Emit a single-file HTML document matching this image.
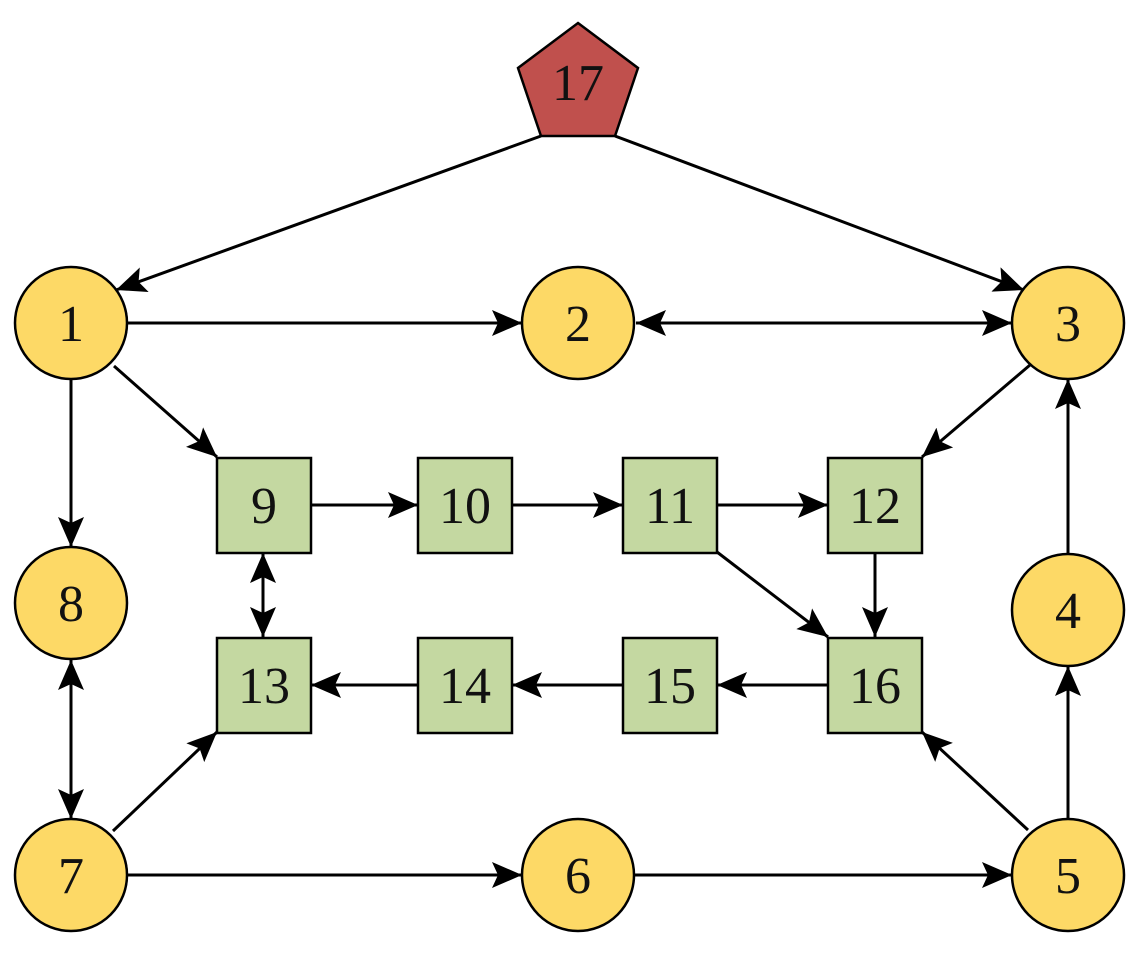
<!DOCTYPE html>
<html><head><meta charset="utf-8"><style>html,body{margin:0;padding:0;background:#fff}svg{display:block}</style></head>
<body>
<svg width="1139" height="964" viewBox="0 0 1139 964" xmlns="http://www.w3.org/2000/svg">
<defs>
<marker id="a" markerUnits="userSpaceOnUse" markerWidth="32" markerHeight="26" refX="30" refY="13" orient="auto">
<path d="M0,0 L30,13 L0,26 L6,13 Z" fill="#000"/></marker>
<marker id="s" markerUnits="userSpaceOnUse" markerWidth="32" markerHeight="26" refX="0" refY="13" orient="auto">
<path d="M30,0 L0,13 L30,26 L24,13 Z" fill="#000"/></marker>
</defs>
<g stroke="#000" stroke-width="3" fill="none">
<line x1="541" y1="136" x2="116" y2="290" marker-end="url(#a)"/>
<line x1="615" y1="136" x2="1024" y2="290" marker-end="url(#a)"/>
<line x1="128" y1="323" x2="522" y2="323" marker-end="url(#a)"/>
<line x1="636" y1="323" x2="1012" y2="323" marker-start="url(#s)" marker-end="url(#a)"/>
<line x1="1030" y1="365" x2="922" y2="457" marker-end="url(#a)"/>
<line x1="114" y1="366" x2="217" y2="457" marker-end="url(#a)"/>
<line x1="71" y1="379" x2="71" y2="547" marker-end="url(#a)"/>
<line x1="311" y1="505" x2="418" y2="505" marker-end="url(#a)"/>
<line x1="512" y1="505" x2="623" y2="505" marker-end="url(#a)"/>
<line x1="717" y1="505" x2="828" y2="505" marker-end="url(#a)"/>
<line x1="717" y1="552" x2="828" y2="637" marker-end="url(#a)"/>
<line x1="875" y1="552" x2="875" y2="637" marker-end="url(#a)"/>
<line x1="828" y1="685" x2="717" y2="685" marker-end="url(#a)"/>
<line x1="623" y1="685" x2="512" y2="685" marker-end="url(#a)"/>
<line x1="418" y1="685" x2="311" y2="685" marker-end="url(#a)"/>
<line x1="263" y1="553" x2="263" y2="637" marker-start="url(#s)" marker-end="url(#a)"/>
<line x1="71" y1="660" x2="71" y2="819" marker-start="url(#s)" marker-end="url(#a)"/>
<line x1="113" y1="831" x2="217" y2="732" marker-end="url(#a)"/>
<line x1="127" y1="875" x2="522" y2="875" marker-end="url(#a)"/>
<line x1="634" y1="875" x2="1012" y2="875" marker-end="url(#a)"/>
<line x1="1028" y1="830" x2="922" y2="732" marker-end="url(#a)"/>
<line x1="1068" y1="819" x2="1068" y2="666" marker-end="url(#a)"/>
<line x1="1068" y1="554" x2="1068" y2="379" marker-end="url(#a)"/>
</g>
<g stroke="#000" stroke-width="2.5" fill="#FDD966">
<circle cx="71" cy="323" r="56"/><circle cx="578" cy="323" r="56"/><circle cx="1068" cy="323" r="56"/>
<circle cx="71" cy="603" r="56"/><circle cx="1068" cy="610" r="56"/>
<circle cx="71" cy="875" r="56"/><circle cx="578" cy="875" r="56"/><circle cx="1068" cy="875" r="56"/>
</g>
<g stroke="#000" stroke-width="2.5" fill="#C4D8A1">
<rect x="217" y="458" width="94" height="95"/><rect x="418" y="458" width="94" height="95"/>
<rect x="623" y="458" width="94" height="95"/><rect x="828" y="458" width="94" height="95"/>
<rect x="217" y="638" width="94" height="95"/><rect x="418" y="638" width="94" height="95"/>
<rect x="623" y="638" width="94" height="95"/><rect x="828" y="638" width="94" height="95"/>
</g>
<polygon points="578,23 638,68 615,136 541,136 518,68" fill="#C0504D" stroke="#000" stroke-width="2.5"/>
<g font-family="Liberation Serif, serif" font-size="52" text-anchor="middle" fill="#111">
<text x="578" y="100">17</text>
<text x="71" y="341">1</text><text x="578" y="341">2</text><text x="1068" y="341">3</text>
<text x="71" y="621">8</text><text x="1068" y="628">4</text>
<text x="71" y="893">7</text><text x="578" y="893">6</text><text x="1068" y="893">5</text>
<text x="264" y="523">9</text><text x="465" y="523">10</text><text x="670" y="523">11</text><text x="875" y="523">12</text>
<text x="264" y="703">13</text><text x="465" y="703">14</text><text x="670" y="703">15</text><text x="875" y="703">16</text>
</g>
</svg>
</body></html>
